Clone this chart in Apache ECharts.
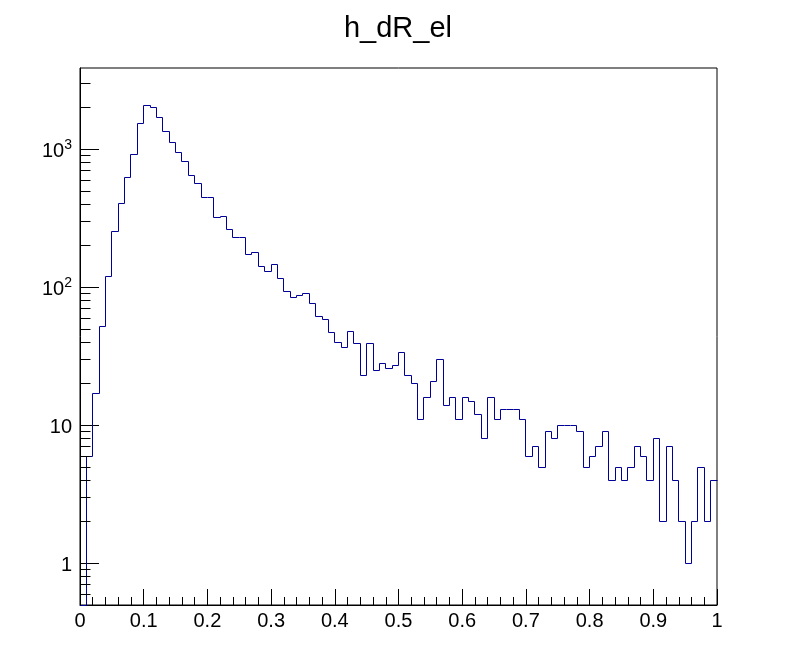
<!DOCTYPE html>
<html>
<head>
<meta charset="utf-8">
<script src="https://cdn.jsdelivr.net/npm/echarts@6/dist/echarts.min.js"></script>
<style>html,body{margin:0;padding:0;background:#fff}#c{width:796px;height:672px}</style>
</head>
<body>
<div id="c"></div>
<script>
const titleText = 'h_dR_el';
const xMin = 0, xMax = 1, binWidth = 0.01;
// bin contents, 100 bins from 0 to 1
const countsA = [0, 6, 17, 52, 120, 253, 404, 623, 920, 1535, 2072, 2005, 1696, 1343, 1124, 951, 814, 645, 564, 447, 447, 320, 325, 262, 229];
const countsB = [229, 173, 179, 141, 130, 148, 117, 93, 84, 87, 91, 77, 62, 59, 47, 40, 37, 48, 39, 23, 39, 25, 28, 26, 27];
const countsC = [34, 23, 20, 11, 16, 21, 30, 14, 16, 11, 16, 15, 12, 8, 16, 11, 13, 13, 13, 11, 6, 7, 5, 9, 8];
const countsD = [10, 10, 10, 9, 5, 6, 7, 9, 4, 5, 4, 5, 7, 6, 4, 8, 2, 7, 4, 2, 1, 2, 5, 2, 4];
const yMin = 0.5003, yMax = 3896;
const yMinorTicks = [0.6, 0.7, 0.8, 0.9, 2, 3, 4, 5, 6, 7, 8, 9, 20, 30, 40, 50, 60, 70, 80, 90, 200, 300, 400, 500, 600, 700, 800, 900, 2000, 3000];

const counts = countsA.concat(countsB, countsC, countsD);
const binLow = counts.map((_, i) => xMin + i * binWidth);
const histData = counts.map((c, i) => [binLow[i], binLow[i] + binWidth, c, i > 0 ? counts[i - 1] : 0]);

const FONT = "'Liberation Sans', Arial, Helvetica, sans-serif";
const LINE_COLOR = '#000099';
const crisp = v => Math.round(v - 0.5) + 0.5;

const chart = echarts.init(document.getElementById('c'), null, {renderer: 'canvas'});

function renderHist(params, api) {
  const cs = params.coordSys;
  const bottom = cs.y + cs.height;
  const x0 = api.value(0), x1 = api.value(1), v = api.value(2), vp = api.value(3);
  const yOf = c => (c > 0 ? api.coord([x0, c])[1] : bottom);
  const px0 = crisp(api.coord([x0, 1])[0]);
  const px1 = crisp(api.coord([x1, 1])[0]);
  const y = crisp(yOf(v)), yp = crisp(yOf(vp));
  return {
    type: 'polyline',
    silent: true,
    shape: {points: [[px0, yp], [px0, y], [px1, y]]},
    style: {stroke: LINE_COLOR, lineWidth: 1, fill: null}
  };
}

function renderMinorTick(params, api) {
  const p = api.coord([xMin, api.value(1)]);
  const y = crisp(p[1]);
  const x = crisp(params.coordSys.x);
  return {
    type: 'line',
    silent: true,
    shape: {x1: x, y1: y, x2: x + 10, y2: y},
    style: {stroke: '#000', lineWidth: 1}
  };
}

chart.setOption({
  animation: false,
  backgroundColor: '#fff',
  title: {
    text: titleText,
    left: 'center',
    top: 9,
    textStyle: {fontFamily: FONT, fontSize: 29, fontWeight: 'normal', color: '#000'}
  },
  grid: {
    left: 80, right: 79, top: 68, bottom: 67,
    show: true, borderColor: '#000', borderWidth: 1, backgroundColor: 'transparent'
  },
  xAxis: {
    type: 'value',
    min: xMin, max: xMax, interval: 0.1,
    axisLine: {show: true, lineStyle: {color: '#000', width: 1}},
    axisTick: {show: true, inside: true, length: 16, lineStyle: {color: '#000', width: 1}},
    minorTick: {show: true, splitNumber: 5, length: 8, lineStyle: {color: '#000', width: 1}},
    splitLine: {show: false},
    axisLabel: {color: '#000', fontFamily: FONT, fontSize: 20, margin: 6}
  },
  yAxis: {
    type: 'log', logBase: 10,
    min: yMin, max: yMax,
    axisLine: {show: true, lineStyle: {color: '#000', width: 1}},
    axisTick: {show: true, inside: true, length: 19, lineStyle: {color: '#000', width: 1}},
    minorTick: {show: false},
    splitLine: {show: false},
    axisLabel: {
      margin: 8,
      showMinLabel: false,
      showMaxLabel: false,
      formatter: function (v) {
        const e = Math.round(Math.log10(v));
        if (e >= 2) return '{b|10}{s|' + e + '}';
        if (e === 1) return '{b|10}';
        if (e === 0) return '{b|1}';
        return '';
      },
      rich: {
        b: {fontFamily: FONT, fontSize: 20, color: '#000', padding: [3, 0, 0, 0]},
        s: {fontFamily: FONT, fontSize: 14, color: '#000', verticalAlign: 'top'}
      }
    }
  },
  series: [
    {
      type: 'custom',
      name: titleText,
      coordinateSystem: 'cartesian2d',
      renderItem: renderHist,
      data: histData,
      encode: {x: [0, 1], y: 2},
      z: 3
    },
    {
      type: 'custom',
      name: 'yMinorTicks',
      coordinateSystem: 'cartesian2d',
      renderItem: renderMinorTick,
      data: yMinorTicks.map(v => [xMin, v]),
      encode: {x: 0, y: 1},
      z: 4
    }
  ]
});
</script>
</body>
</html>
